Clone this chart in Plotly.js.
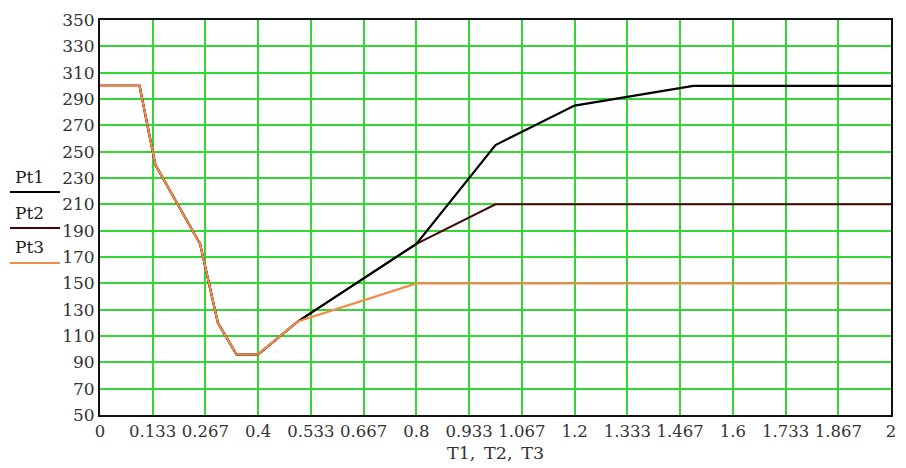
<!DOCTYPE html>
<html><head><meta charset="utf-8">
<script src="https://cdn.plot.ly/plotly-3.0.1.min.js"></script>
<style>html,body{margin:0;padding:0;background:#fff;}#chart{width:906px;height:468px;}</style>
</head><body><div id="chart"></div>
<script>
// Data
const T1 = [0, 0.1, 0.14, 0.253, 0.298, 0.345, 0.4, 0.5, 0.8, 1.0, 1.2, 1.5, 2];
const Pt1 = [300, 300, 240, 180, 120, 96, 96, 121, 180, 255, 285, 300, 300];
const T2 = [0, 0.1, 0.14, 0.253, 0.298, 0.345, 0.4, 0.5, 0.8, 1.0, 2];
const Pt2 = [300, 300, 240, 180, 120, 96, 96, 121, 180, 210, 210];
const T3 = [0, 0.1, 0.14, 0.253, 0.298, 0.345, 0.4, 0.5, 0.8, 2];
const Pt3 = [300, 300, 240, 180, 120, 96, 96, 121, 150, 150];
const xTickVals = [0, 2/15, 4/15, 6/15, 8/15, 10/15, 12/15, 14/15, 16/15, 18/15, 20/15, 22/15, 24/15, 26/15, 28/15, 2];
const xTickText = ["0", "0.133", "0.267", "0.4", "0.533", "0.667", "0.8", "0.933", "1.067", "1.2", "1.333", "1.467", "1.6", "1.733", "1.867", "2"];
const seriesNames = ["Pt1", "Pt2", "Pt3"];
const seriesColors = ["#000000", "#4a0505", "#f28a4c"];
const xTitle = "T1,\u2002T2,\u2002T3";

const L = 100, R = 891, TOP = 20, B = 415;
const px = p => (p - L) / (R - L);
const py = p => (B - p) / (B - TOP);
const serif = "DejaVu Serif, serif";

const traces = [
  {x: T2, y: Pt2, name: seriesNames[1], mode: "lines", line: {color: seriesColors[1], width: 2}},
  {x: T1, y: Pt1, name: seriesNames[0], mode: "lines", line: {color: seriesColors[0], width: 2.2}},
  {x: T3, y: Pt3, name: seriesNames[2], mode: "lines", line: {color: seriesColors[2], width: 2.2}}
];

const legY = [[177, 192], [213, 228], [247, 263]];
const shapes = [], annotations = [];
seriesNames.forEach((n, i) => {
  shapes.push({type: "line", xref: "paper", yref: "paper", x0: px(10), x1: px(60), y0: py(legY[i][1]), y1: py(legY[i][1]), line: {color: seriesColors[i], width: 2}});
  annotations.push({xref: "paper", yref: "paper", x: px(29), y: py(legY[i][0]), text: n, showarrow: false, xanchor: "center", yanchor: "middle", font: {family: serif, size: 17, color: "#222"}});
});

const layout = {
  width: 906, height: 468,
  margin: {l: L, r: 906 - R, t: TOP, b: 468 - B},
  paper_bgcolor: "#fff", plot_bgcolor: "#fff",
  showlegend: false,
  xaxis: {
    range: [0, 2], tickvals: xTickVals, ticktext: xTickText, tickangle: 0,
    showgrid: true, gridcolor: "#33d633", gridwidth: 2, zeroline: false,
    showline: true, linecolor: "#111", linewidth: 2, mirror: true, ticks: "",
    tickfont: {family: serif, size: 16.5, color: "#333"},
    title: {text: xTitle, font: {family: serif, size: 17.5, color: "#333"}, standoff: 7},
    automargin: false
  },
  yaxis: {
    range: [50, 350], tick0: 50, dtick: 20,
    showgrid: true, gridcolor: "#33d633", gridwidth: 2, zeroline: false,
    showline: true, linecolor: "#111", linewidth: 2, mirror: true, ticks: "",
    tickfont: {family: serif, size: 17, color: "#333"},
    automargin: false
  },
  shapes: shapes, annotations: annotations
};
Plotly.newPlot("chart", traces, layout, {displayModeBar: false, staticPlot: true});
</script></body></html>
